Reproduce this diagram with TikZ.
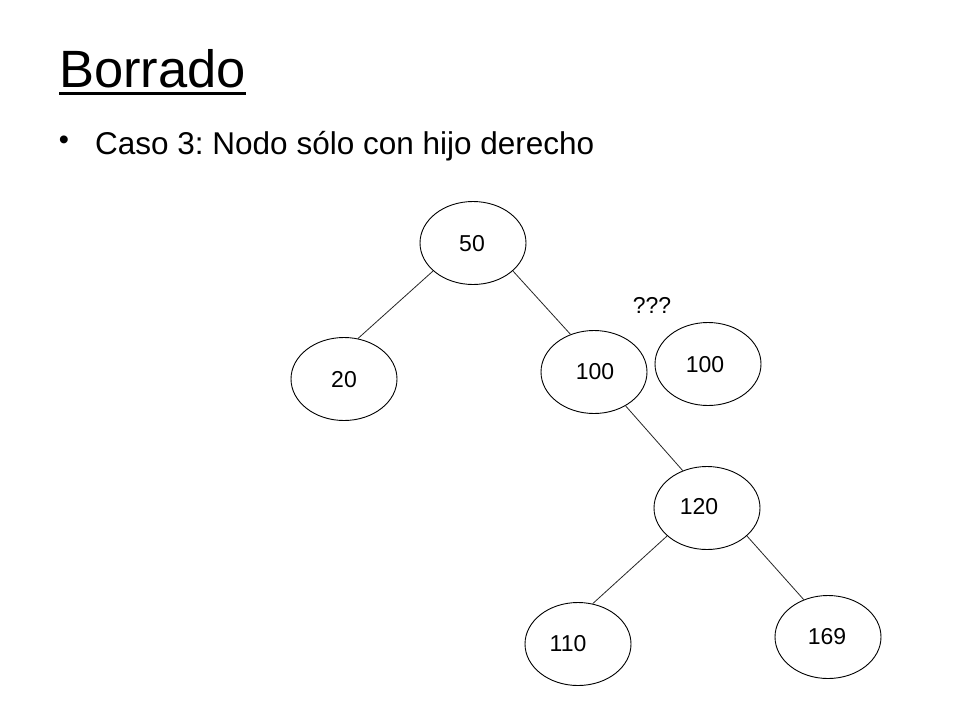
\documentclass[tikz,border=0pt]{standalone}
\usepackage{fontspec}
\setmainfont{Liberation Sans}
\usetikzlibrary{shapes.geometric}
\frenchspacing
\begin{document}
\begin{tikzpicture}[x=1pt,y=-1pt,
  treenode/.style={draw=black,line width=0.9pt,ellipse,minimum width=106pt,minimum height=83pt,inner sep=0pt},
  numlabel/.style={inner sep=0pt,font=\fontsize{23}{27}\selectfont},
  edge/.style={draw=black!85,line width=0.8pt}]
\fill[white] (0,0) rectangle (960,720);
\useasboundingbox (0,0) rectangle (960,720);
% title
\node[anchor=base west,inner sep=0pt,font=\fontsize{52.5}{60}\selectfont] (title) at (59,87) {Borrado};
\draw[line width=3.5pt] (title.west |- 0,93.5) coordinate (ul1) -- (title.east |- 0,93.5) coordinate (ul2);
% bullet
\node[anchor=center,inner sep=0pt,font=\fontsize{29}{34}\selectfont] (bul) at (64,143) {\textbullet};
\node[anchor=base west,inner sep=0pt,font=\fontsize{31.5}{36}\selectfont] (caso) at (95,154) {Caso 3: Nodo sólo con hijo derecho};
% tree nodes
\node[treenode] (n50) at (473,243) {};
\node[treenode] (n20) at (344,379) {};
\node[treenode] (n100a) at (594,372) {};
\node[treenode] (n100b) at (708,364) {};
\node[treenode] (n120) at (707,508) {};
\node[treenode] (n110) at (578,644) {};
\node[treenode] (n169) at (828,637) {};
% labels
\node[numlabel] (t50) at (472,244) {50};
\node[numlabel] (t20) at (344,380) {20};
\node[numlabel] (t100a) at (595,372) {100};
\node[numlabel] (t100b) at (705,365) {100};
\node[numlabel] (t120) at (699,507) {120};
\node[numlabel] (t110) at (568,644) {110};
\node[numlabel] (t169) at (827,637) {169};
\node[numlabel] (tq) at (652,305) {???};
% edges
\draw[edge] (n50.215) -- (n20.71);
\draw[edge] (n50.325) -- (n100a.122);
\draw[edge] (n100a.313) -- (n120.123);
\draw[edge] (n120.215) -- (n110.70);
\draw[edge] (n120.325) -- (n169.123);
\end{tikzpicture}
\end{document}
